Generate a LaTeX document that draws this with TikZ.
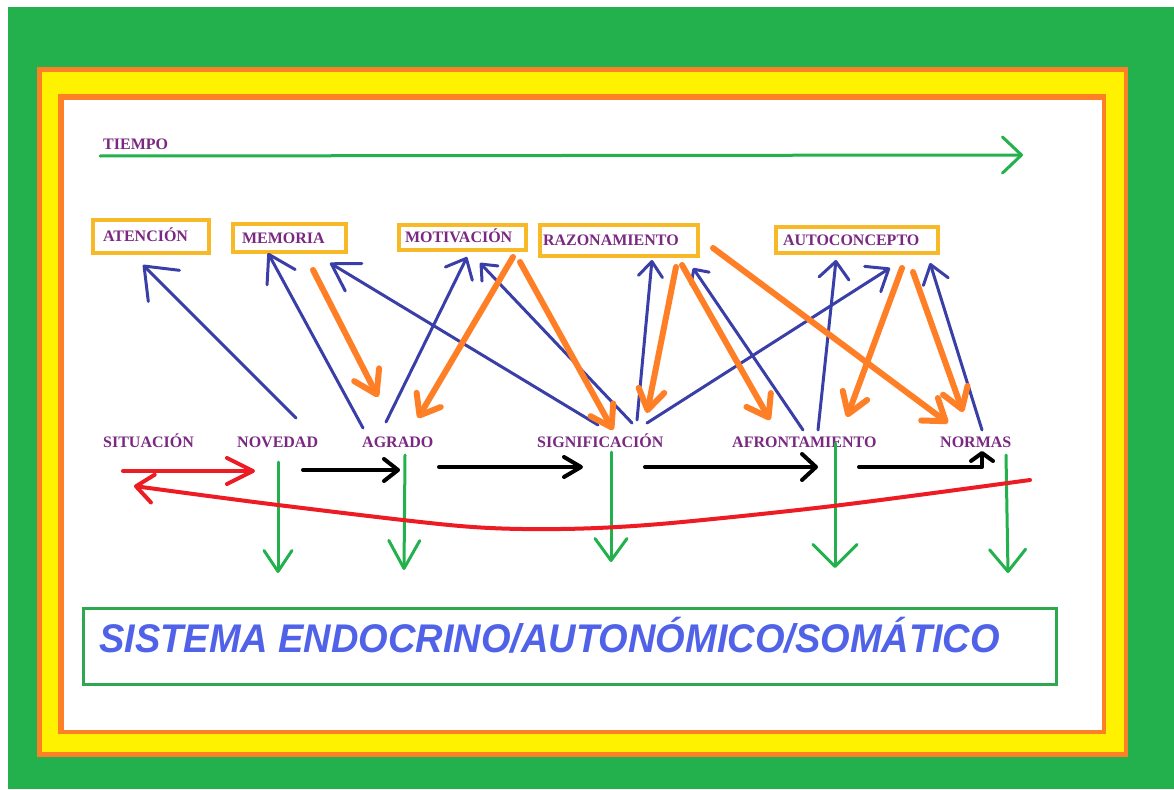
\documentclass[tikz,border=0pt]{standalone}
\usepackage{fontspec}
\setmainfont{Liberation Serif}
\newfontfamily\sisfont{Liberation Sans}
\usetikzlibrary{arrows.meta}
\definecolor{bggreen}{RGB}{34,177,76}
\definecolor{frameorange}{RGB}{255,127,39}
\definecolor{frameyellow}{RGB}{255,242,0}
\definecolor{labpurple}{RGB}{122,40,130}
\definecolor{boxgold}{RGB}{247,185,40}
\definecolor{arrblue}{RGB}{58,63,168}
\definecolor{arrorange}{RGB}{255,127,39}
\definecolor{arrred}{RGB}{237,28,36}
\definecolor{arrgreen}{RGB}{34,177,76}
\definecolor{sisblue}{RGB}{80,98,232}
\definecolor{sisgreen}{RGB}{46,168,78}
\begin{document}
\begin{tikzpicture}[x=1pt,y=-1pt,
  lbl/.style={font=\bfseries\fontsize{16}{16}\selectfont, text=labpurple, inner sep=0pt, anchor=base west},
  cbox/.style={draw=boxgold, line width=3.5pt, rectangle, inner ysep=0pt, align=left,
    font=\bfseries\fontsize{16}{16}\selectfont, text=labpurple, text height=10.6pt, text depth=0pt},
  barrow/.style 2 args={draw=arrblue, line width=3pt, line cap=round, line join=round,
    -{Straight Barb[length=#1,width=#2,round]}},
  oarrow/.style 2 args={draw=arrorange, line width=6pt, line cap=round, line join=round,
    -{Straight Barb[length=#1,width=#2,round]}},
  garrow/.style 2 args={draw=arrgreen, line width=3pt, line cap=round, line join=round,
    -{Straight Barb[length=#1,width=#2,round]}},
  karrow/.style 2 args={draw=black, line width=4pt, line cap=round, line join=round,
    -{Straight Barb[length=#1,width=#2,round]}},
  rarrow/.style 2 args={draw=arrred, line width=4pt, line cap=round, line join=round,
    -{Straight Barb[length=#1,width=#2,round]}}
]
\useasboundingbox (0,0) rectangle (1174,789);
% frame
\fill[white] (0,0) rectangle (1174,789);
\fill[bggreen] (8,7) rectangle (1174,789);
\fill[frameorange] (37,67) rectangle (1128,757);
\fill[frameyellow] (42,72) rectangle (1124,752);
\fill[frameorange] (58,94) rectangle (1106,734);
\fill[white] (64,100) rectangle (1102,730);

% time
\node[lbl] (tiempo) at (103,149) {TIEMPO};
\coordinate (t0) at (100,156);
\coordinate (t1) at (1023,155);
\draw[garrow={19pt}{36pt}] (t0) -- (t1);

% concept boxes
\node[cbox, inner xsep=10pt, text width=96pt, minimum height=33pt] (aten) at (151,236.5) {ATENCIÓN};
\node[cbox, inner xsep=9pt, text width=95pt, minimum height=28pt] (memo) at (289.5,238) {MEMORIA};
\node[cbox, inner xsep=6pt, text width=115pt, minimum height=25pt] (moti) at (462.5,237.5) {MOTIVACIÓN};
\node[cbox, inner xsep=3pt, text width=152pt, minimum height=31pt] (razo) at (619,240.5) {RAZONAMIENTO};
\node[cbox, inner xsep=7pt, text width=148pt, minimum height=26pt] (auto) at (857,240) {AUTOCONCEPTO};

% stage labels
\node[lbl] (situ) at (103,447) {SITUACIÓN};
\node[lbl] (nove) at (237,447) {NOVEDAD};
\node[lbl] (agra) at (362,447) {AGRADO};
\node[lbl] (sign) at (537,447) {SIGNIFICACIÓN};
\node[lbl] (afro) at (732,447) {AFRONTAMIENTO};
\node[lbl] (norm) at (940,447) {NORMAS};

% system box
\node[draw=sisgreen, line width=3pt, rectangle, minimum width=973pt, minimum height=76pt, inner sep=0pt] (sisbox) at (569.5,646) {};
\node[anchor=base west, inner sep=0pt, text=sisblue, font=\sisfont\bfseries\itshape\fontsize{40}{40}\selectfont] (sis) at (99,652)
  {\scalebox{0.95}[1]{SISTEMA ENDOCRINO/AUTONÓMICO/SOMÁTICO}};

% green downward arrows
\coordinate (g1a) at (278,462); \coordinate (g1b) at (278,573);
\coordinate (g2a) at (405,455); \coordinate (g2b) at (404,570);
\coordinate (g3a) at (611,452); \coordinate (g3b) at (611,562);
\coordinate (g4a) at (835,443); \coordinate (g4b) at (835,568);
\coordinate (g5a) at (1006,455); \coordinate (g5b) at (1008,573);
\draw[garrow={21pt}{28pt}] (g1a) -- (g1b);
\draw[garrow={28pt}{31pt}] (g2a) -- (g2b);
\draw[garrow={22pt}{32pt}] (g3a) -- (g3b);
\draw[garrow={22pt}{44pt}] (g4a) -- (g4b);
\draw[garrow={22pt}{36pt}] (g5a) -- (g5b);

% red arrows
\coordinate (r0) at (123,471); \coordinate (r1) at (255,471);
\draw[rarrow={26pt}{26pt}] (r0) -- (r1);
\coordinate (rc0) at (1030,480);
\coordinate (rc1) at (833,506);
\coordinate (rc2) at (660,524);
\coordinate (rc3) at (560,529);
\coordinate (rc4) at (460,526);
\coordinate (rc5) at (278,505);
\coordinate (rc6) at (134,486);
\draw[rarrow={17pt}{28pt}] plot[smooth, tension=0.5] coordinates {(rc0) (rc1) (rc2) (rc3) (rc4) (rc5) (rc6)};

% black sequence arrows
\coordinate (k1a) at (303,470); \coordinate (k1b) at (400,470);
\coordinate (k2a) at (439,467); \coordinate (k2b) at (583,467);
\coordinate (k3a) at (645,467); \coordinate (k3b) at (818,467);
\coordinate (k4a) at (859,467); \coordinate (k4m) at (982,467); \coordinate (k4b) at (982,451);
\draw[karrow={14pt}{22pt}] (k1a) -- (k1b);
\draw[karrow={17pt}{20pt}] (k2a) -- (k2b);
\draw[karrow={14pt}{26pt}] (k3a) -- (k3b);
\draw[karrow={8pt}{22pt}] (k4a) -- (k4m) -- (k4b);

% blue arrows (stage -> concept)
\coordinate (u1a) at (296,418); \coordinate (u1b) at (143,265);
\coordinate (u2a) at (363,428); \coordinate (u2b) at (268,253);
\coordinate (u3a) at (386,422); \coordinate (u3b) at (467,257);
\coordinate (u4a) at (598,425); \coordinate (u4b) at (330,263);
\coordinate (u5a) at (632,423); \coordinate (u5b) at (480,263);
\coordinate (u6a) at (637,420); \coordinate (u6b) at (652,260);
\coordinate (u7a) at (647,423); \coordinate (u7b) at (890,268);
\coordinate (u8a) at (803,430); \coordinate (u8b) at (693,268);
\coordinate (u9a) at (818,430); \coordinate (u9b) at (836,260);
\coordinate (u10a) at (982,430); \coordinate (u10b) at (930,263);
\draw[barrow={28pt}{44pt}] (u1a) -- (u1b);
\draw[barrow={26pt}{32pt}] (u2a) -- (u2b);
\draw[barrow={17pt}{30pt}] (u3a) -- (u3b);
\draw[barrow={26pt}{32pt}] (u4a) -- (u4b);
\draw[barrow={13pt}{22pt}] (u5a) -- (u5b);
\draw[barrow={15pt}{24pt}] (u6a) -- (u6b);
\draw[barrow={19pt}{30pt}] (u7a) -- (u7b);
\draw[barrow={11pt}{22pt}] (u8a) -- (u8b);
\draw[barrow={17pt}{30pt}] (u9a) -- (u9b);
\draw[barrow={18pt}{26pt}] (u10a) -- (u10b);

% orange arrows (concept -> stage)
\coordinate (o1a) at (313,270); \coordinate (o1b) at (378,397);
\coordinate (o2a) at (513,257); \coordinate (o2b) at (418,418);
\coordinate (o3a) at (520,262); \coordinate (o3b) at (613,430);
\coordinate (o4a) at (676,267); \coordinate (o4b) at (647,413);
\coordinate (o5a) at (682,265); \coordinate (o5b) at (770,420);
\coordinate (o6a) at (713,248); \coordinate (o6b) at (948,423);
\coordinate (o7a) at (902,268); \coordinate (o7b) at (847,417);
\coordinate (o8a) at (913,272); \coordinate (o8b) at (963,412);
\draw[oarrow={22pt}{28pt}] (o1a) -- (o1b);
\draw[oarrow={18pt}{28pt}] (o2a) -- (o2b);
\draw[oarrow={20pt}{26pt}] (o3a) -- (o3b);
\draw[oarrow={20pt}{26pt}] (o4a) -- (o4b);
\draw[oarrow={20pt}{28pt}] (o5a) -- (o5b);
\draw[oarrow={20pt}{28pt}] (o6a) -- (o6b);
\draw[oarrow={20pt}{26pt}] (o7a) -- (o7b);
\draw[oarrow={20pt}{26pt}] (o8a) -- (o8b);
\end{tikzpicture}
\end{document}
